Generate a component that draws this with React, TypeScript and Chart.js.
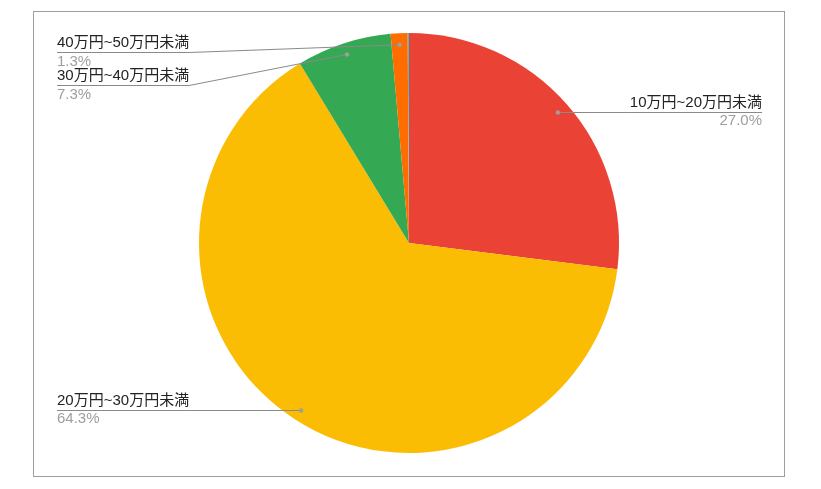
import { useEffect, useRef } from "react";
import { Chart, registerables } from "chart.js";

Chart.register(...registerables);

const categories = [
  "10万円~20万円未満",
  "20万円~30万円未満",
  "30万円~40万円未満",
  "40万円~50万円未満",
  "50万円以上",
];
const shares = [27.0, 64.3, 7.3, 1.3, 0.1];
const sliceColors = ["#EA4335", "#FBBC04", "#34A853", "#FF6D01", "#46BDC6"];

const FONT = '"Liberation Sans", Arial, "Noto Sans CJK JP", sans-serif';

const FRAME = { left: 33, top: 11, right: 784, bottom: 476 };

const calloutPlugin = {
  id: "callouts",
  beforeDraw(chart: any) {
    const ctx = chart.ctx;
    ctx.save();
    ctx.fillStyle = "#ffffff";
    ctx.fillRect(0, 0, chart.width, chart.height);
    ctx.strokeStyle = "#9e9e9e";
    ctx.lineWidth = 1;
    ctx.strokeRect(
      FRAME.left + 0.5,
      FRAME.top + 0.5,
      FRAME.right - FRAME.left,
      FRAME.bottom - FRAME.top
    );
    ctx.restore();
  },
  afterDatasetsDraw(chart: any) {
    const ctx = chart.ctx;
    const meta = chart.getDatasetMeta(0);
    const total = shares.reduce((a, b) => a + b, 0);
    const items: any[] = [];
    meta.data.forEach((arc: any, i: number) => {
      const pct = (shares[i] / total) * 100;
      if (pct < 0.5) return;
      const p = arc.getProps(["x", "y", "startAngle", "endAngle", "outerRadius"], true);
      const mid = (p.startAngle + p.endAngle) / 2;
      const r = p.outerRadius * 0.945;
      items.push({
        i,
        pct,
        dx: p.x + Math.cos(mid) * r,
        dy: p.y + Math.sin(mid) * r,
        right: Math.cos(mid) > 0,
      });
    });
    const leftX = FRAME.left + 24;
    const rightX = FRAME.right - 22;
    const minY = FRAME.top + 41;
    const gap = 33;
    ctx.save();
    ctx.font = `15px ${FONT}`;
    for (const side of [false, true]) {
      const group = items.filter((it) => it.right === side).sort((a, b) => a.dy - b.dy);
      let prev = -Infinity;
      for (const it of group) {
        const ly = Math.max(it.dy, prev + gap, minY);
        prev = ly;
        const name = categories[it.i];
        const pctText = it.pct.toFixed(1) + "%";
        const tw = ctx.measureText(name).width;
        const x0 = side ? rightX : leftX;
        const x1 = side ? rightX - tw : leftX + tw;
        // leader line
        ctx.strokeStyle = "#8a8a8a";
        ctx.lineWidth = 1;
        ctx.beginPath();
        const yy = Math.round(ly) + 0.5;
        ctx.moveTo(x0, yy);
        if ((side && it.dx < x1) || (!side && it.dx > x1)) {
          ctx.lineTo(x1, yy);
        }
        ctx.lineTo(it.dx, Math.abs(it.dy - ly) < 0.6 ? yy : it.dy);
        ctx.stroke();
        // dot
        ctx.fillStyle = "#9e9e9e";
        ctx.beginPath();
        ctx.arc(it.dx, Math.abs(it.dy - ly) < 0.6 ? yy : it.dy, 2.2, 0, Math.PI * 2);
        ctx.fill();
        // text
        ctx.textAlign = side ? "right" : "left";
        ctx.textBaseline = "middle";
        ctx.fillStyle = "#222222";
        ctx.fillText(name, x0, ly - 9);
        ctx.fillStyle = "#9e9e9e";
        ctx.fillText(pctText, x0, ly + 9.5);
      }
    }
    ctx.restore();
  },
};

export default function App() {
  const ref = useRef<HTMLCanvasElement | null>(null);
  useEffect(() => {
    if (!ref.current) return;
    const chart = new Chart(ref.current, {
      type: "pie",
      data: {
        labels: categories,
        datasets: [
          {
            data: shares,
            backgroundColor: sliceColors,
            borderWidth: 0,
          },
        ],
      },
      options: {
        animation: false,
        responsive: true,
        maintainAspectRatio: false,
        layout: { padding: { left: 199, right: 202, top: 33, bottom: 36 } },
        plugins: {
          legend: { display: false },
          tooltip: { enabled: false },
        },
      },
      plugins: [calloutPlugin],
    });
    return () => chart.destroy();
  }, []);
  return (
    <div style={{ position: "fixed", left: 0, top: 0, width: 821, height: 489, background: "#fff" }}>
      <canvas ref={ref} />
    </div>
  );
}
